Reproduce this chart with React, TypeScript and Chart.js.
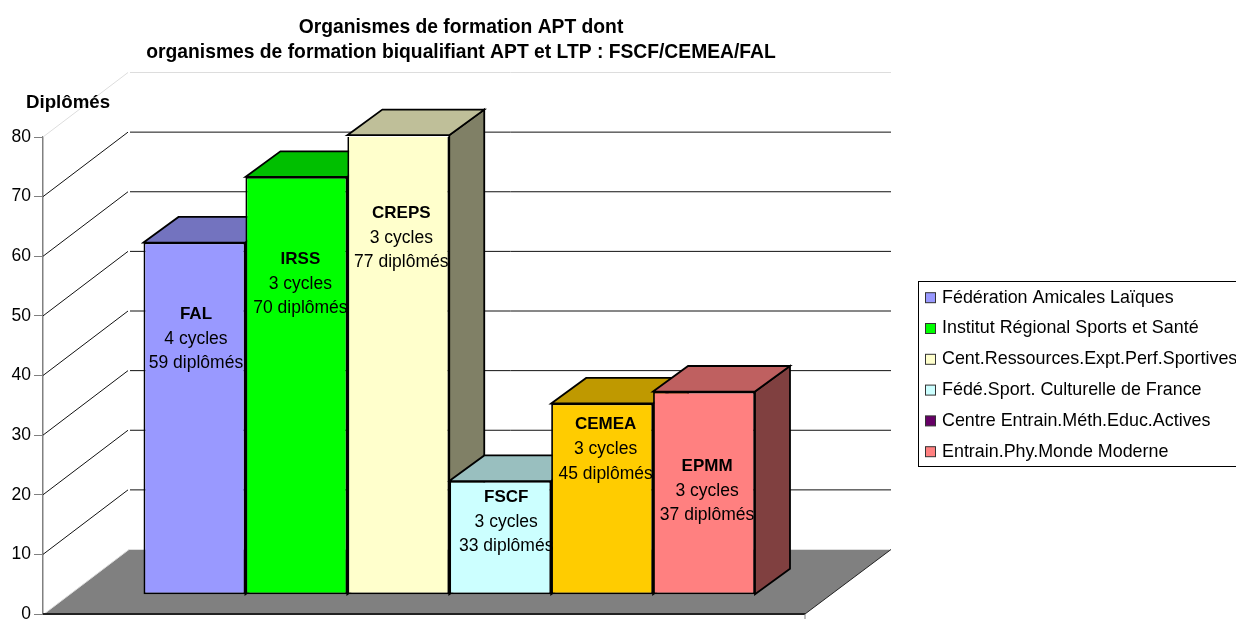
import React, { useEffect, useRef } from "react";
import { Chart, registerables } from "chart.js";

Chart.register(...registerables);

const shortNames = ["FAL", "IRSS", "CREPS", "FSCF", "CEMEA", "EPMM"];
const legendLabels = [
  "Fédération Amicales Laïques",
  "Institut Régional Sports et Santé",
  "Cent.Ressources.Expt.Perf.Sportives",
  "Fédé.Sport. Culturelle de France",
  "Centre Entrain.Méth.Educ.Actives",
  "Entrain.Phy.Monde Moderne",
];
const barValues = [59, 70, 77, 19, 32, 34];
const cycleLabels = ["4 cycles", "3 cycles", "3 cycles", "3 cycles", "3 cycles", "3 cycles"];
const graduateLabels = ["59 diplômés", "70 diplômés", "77 diplômés", "33 diplômés", "45 diplômés", "37 diplômés"];
const titleLines = ["Organismes de formation APT dont", "organismes de formation biqualifiant APT et LTP : FSCF/CEMEA/FAL"];
const axisTitle = "Diplômés";

const barColors = ["#9999FF", "#00FF00", "#FFFFCC", "#CCFFFF", "#FFCC00", "#FF8080"];
const legendColors = ["#9999FF", "#00FF00", "#FFFFCC", "#CCFFFF", "#660066", "#FF8080"];
// Hand-placed label anchors from the original, in axis units above the bar base, and small x nudges.
const labelAnchor = [43, 52.2, 59.9, 12.3, 24.5, 17.5];
const labelNudge = [1.5, 4, 3, 6, 3.5, 3];

const FONT = '"Liberation Sans", Arial, sans-serif';
const WALL_DX = 85;
const WALL_DY = 64.5;
const BAR_DX = 35;
const BAR_DY = 25.6;
const BASE_LIFT = 3.3; // bars stand this many axis units in front of the axis origin

function shade(hex: string, k: number) {
  const n = parseInt(hex.slice(1), 16);
  const c = [(n >> 16) & 255, (n >> 8) & 255, n & 255].map((v) => Math.round(v * k));
  return `rgb(${c[0]},${c[1]},${c[2]})`;
}

function poly(ctx: CanvasRenderingContext2D, pts: number[][], fill?: string, stroke?: string, lw = 1) {
  ctx.beginPath();
  pts.forEach((p, i) => (i ? ctx.lineTo(p[0], p[1]) : ctx.moveTo(p[0], p[1])));
  if (fill) {
    ctx.closePath();
    ctx.fillStyle = fill;
    ctx.fill();
  }
  if (stroke) {
    ctx.strokeStyle = stroke;
    ctx.lineWidth = lw;
    ctx.stroke();
  }
}

const scenePlugin = {
  id: "scene3d",
  beforeDatasetsDraw(chart: any) {
    const ctx: CanvasRenderingContext2D = chart.ctx;
    const y = chart.scales.y;
    const left = chart.chartArea.left;
    const wallRight = 891;
    const y0 = y.getPixelForValue(0);
    ctx.save();
    // walls
    y.ticks.forEach((t: any) => {
      const py = y.getPixelForValue(t.value);
      if (t.value === 0) return;
      const top = t.value === y.max;
      const col = top ? "#DDDDDD" : "#111111";
      poly(ctx, [[left, py], [left + WALL_DX, py - WALL_DY]], undefined, col, 1);
      poly(ctx, [[left + WALL_DX + 2, py - WALL_DY], [wallRight, py - WALL_DY]], undefined, col, 1);
    });
    // floor
    const floor = [
      [left + 1, y0],
      [left + WALL_DX + 1, y0 - WALL_DY],
      [wallRight, y0 - WALL_DY],
      [805, y0],
    ];
    poly(ctx, floor, "#808080");
    poly(ctx, [floor[0], floor[1], floor[2]], undefined, "#DDDDDD", 1);
    poly(ctx, [floor[2], floor[3]], undefined, "#222222", 1);
    poly(ctx, [[left, y0], [805, y0]], undefined, "#222222", 2);
    poly(ctx, [[805, y0], [805, y0 + 5]], undefined, "#808080", 1);
    // bar side and top faces
    barValues.forEach((_, i) => {
      const el = chart.getDatasetMeta(i).data[0];
      const l = el.x - el.width / 2;
      const r = el.x + el.width / 2;
      poly(ctx, [[r, el.y], [r + BAR_DX, el.y - BAR_DY], [r + BAR_DX, el.base - BAR_DY], [r, el.base]], shade(barColors[i], 0.5), "#000", 1.8);
      poly(ctx, [[l, el.y], [l + BAR_DX, el.y - BAR_DY], [r + BAR_DX, el.y - BAR_DY], [r, el.y]], shade(barColors[i], 0.75), "#000", 1.8);
    });
    ctx.restore();
  },
  afterDatasetsDraw(chart: any) {
    const ctx: CanvasRenderingContext2D = chart.ctx;
    const y2 = chart.scales.y2;
    ctx.save();
    ctx.fillStyle = "#000";
    ctx.textAlign = "center";
    ctx.textBaseline = "middle";
    barValues.forEach((_, i) => {
      const el = chart.getDatasetMeta(i).data[0];
      const cx = el.x + labelNudge[i];
      const cy = y2.getPixelForValue(labelAnchor[i]) + 1;
      ctx.font = `bold 17px ${FONT}`;
      ctx.fillText(shortNames[i], cx, cy - 24.5);
      ctx.font = `17.5px ${FONT}`;
      ctx.fillText(cycleLabels[i], cx, cy);
      ctx.fillText(graduateLabels[i], cx, cy + 24.5);
    });
    // title
    ctx.font = `bold 19.3px ${FONT}`;
    ctx.fillText(titleLines[0], 461, 28);
    ctx.fillText(titleLines[1], 461, 53);
    // axis title
    ctx.textAlign = "left";
    ctx.font = `bold 18.7px ${FONT}`;
    ctx.fillText(axisTitle, 26, 103);
    // legend
    ctx.strokeStyle = "#000";
    ctx.lineWidth = 1;
    ctx.strokeRect(918.5, 281.5, 340, 185);
    ctx.font = `17.9px ${FONT}`;
    legendLabels.forEach((label, i) => {
      const ly = 297.7 + i * 30.8;
      ctx.fillStyle = legendColors[i];
      ctx.fillRect(925.5, ly - 5, 10, 10);
      ctx.strokeStyle = "#333";
      ctx.strokeRect(925.5, ly - 5, 10, 10);
      ctx.fillStyle = "#000";
      ctx.fillText(label, 942, ly);
    });
    ctx.restore();
  },
};

export default function App() {
  const ref = useRef<HTMLCanvasElement | null>(null);
  useEffect(() => {
    const chart = new Chart(ref.current as HTMLCanvasElement, {
      type: "bar",
      data: {
        labels: ["Organismes"],
        datasets: legendLabels.map((label, i) => ({
          label,
          data: [barValues[i]],
          yAxisID: "y2",
          backgroundColor: barColors[i],
          borderColor: "#000",
          borderWidth: 1.8,
          borderSkipped: false,
          barPercentage: 1,
          categoryPercentage: 0.7526,
        })),
      },
      options: {
        responsive: false,
        animation: false,
        layout: { padding: { top: 137, bottom: 5, left: 0, right: 380.5 } },
        plugins: { legend: { display: false }, title: { display: false }, tooltip: { enabled: false } },
        scales: {
          x: { display: false },
          y: {
            position: "left",
            min: 0,
            max: 80,
            afterFit: (s: any) => {
              s.width = 43;
              s.paddingTop = 0;
              s.paddingBottom = 0;
            },
            ticks: { stepSize: 10, padding: 3, color: "#000", font: { family: FONT, size: 17.5 } },
            grid: { drawOnChartArea: false, drawTicks: true, tickLength: 9, color: "#808080" },
            border: { color: "#808080", width: 1.5 },
          },
          y2: { display: false, min: -BASE_LIFT, max: 80 - BASE_LIFT },
        },
      },
      plugins: [scenePlugin],
    } as any);
    return () => chart.destroy();
  }, []);
  return <canvas ref={ref} width={1236} height={619} style={{ position: "absolute", left: 0, top: 0, display: "block" }} />;
}
